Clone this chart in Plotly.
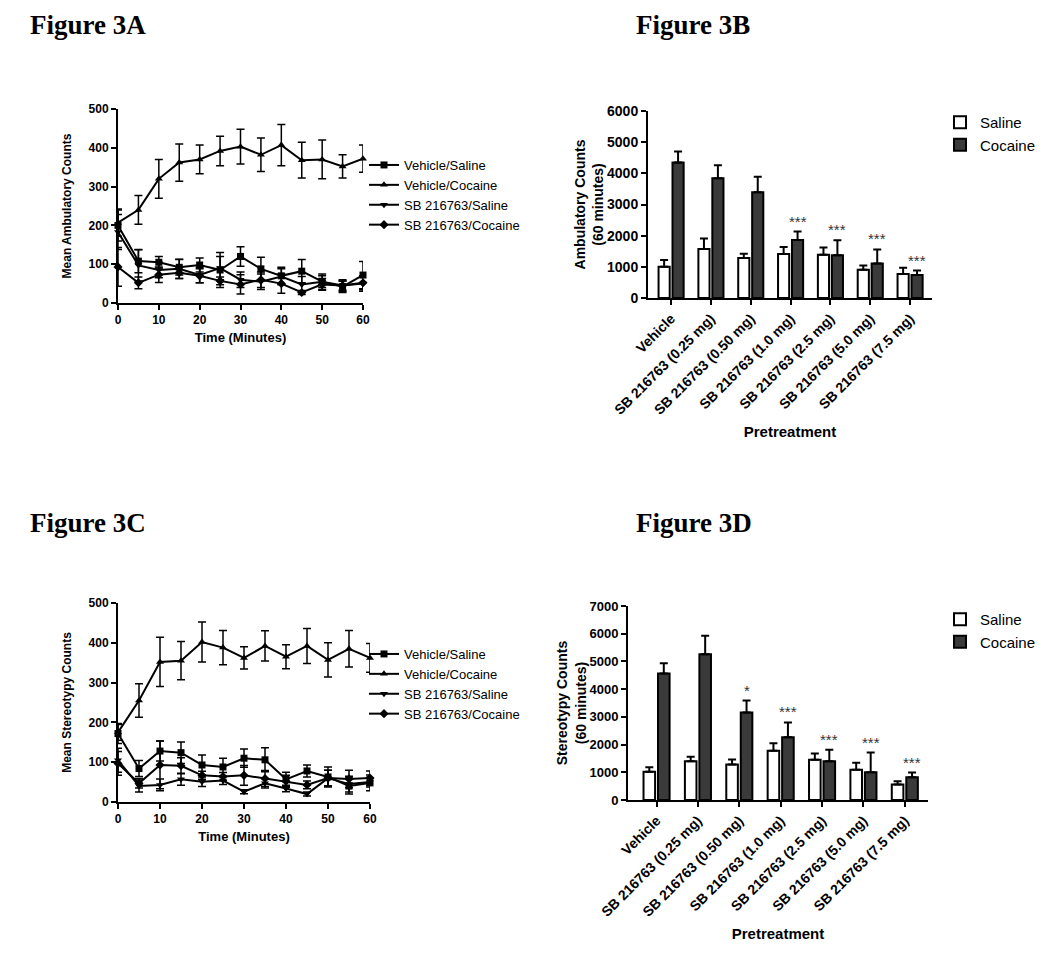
import plotly.graph_objects as go

# ---------------- data ----------------
time_min = [0, 5, 10, 15, 20, 25, 30, 35, 40, 45, 50, 55, 60]
line_series = ["Vehicle/Saline", "Vehicle/Cocaine", "SB 216763/Saline", "SB 216763/Cocaine"]

# Figure 3A - Mean ambulatory counts
amb_vs = [200, 108, 105, 92, 98, 85, 120, 88, 70, 82, 55, 42, 72]
amb_vs_err = [40, 30, 15, 20, 18, 45, 25, 30, 22, 30, 20, 15, 35]
amb_vc = [207, 240, 320, 362, 370, 392, 403, 382, 407, 368, 370, 352, 372]
amb_vc_err = [35, 37, 50, 48, 37, 38, 45, 43, 53, 46, 50, 30, 35]
amb_ss = [183, 97, 85, 88, 72, 90, 60, 55, 68, 48, 55, 45, 50]
amb_ss_err = [45, 40, 20, 25, 20, 30, 20, 20, 20, 20, 15, 15, 20]
amb_sc = [93, 52, 73, 78, 70, 57, 48, 60, 50, 27, 48, 45, 52]
amb_sc_err = [50, 15, 20, 15, 18, 10, 25, 20, 25, 5, 15, 12, 18]

# Figure 3C - Mean stereotypy counts
ste_vs = [172, 84, 128, 124, 93, 88, 110, 106, 57, 78, 63, 40, 48]
ste_vs_err = [25, 20, 25, 27, 25, 22, 23, 30, 18, 15, 25, 20, 20]
ste_vc = [175, 255, 352, 355, 402, 388, 362, 392, 365, 392, 357, 385, 362]
ste_vc_err = [20, 42, 62, 48, 50, 43, 28, 38, 30, 44, 43, 46, 36]
ste_ss = [105, 40, 43, 57, 51, 54, 26, 47, 34, 20, 60, 45, 50]
ste_ss_err = [30, 15, 15, 15, 12, 10, 5, 12, 8, 5, 20, 20, 12]
ste_sc = [97, 47, 93, 91, 67, 64, 67, 59, 52, 43, 60, 58, 60]
ste_sc_err = [30, 12, 60, 20, 10, 10, 25, 20, 15, 10, 20, 22, 18]

# Bar charts
pretreatments = ["Vehicle", "SB 216763 (0.25 mg)", "SB 216763 (0.50 mg)", "SB 216763 (1.0 mg)",
                 "SB 216763 (2.5 mg)", "SB 216763 (5.0 mg)", "SB 216763 (7.5 mg)"]
# Figure 3B - Ambulatory counts (60 minutes)
amb60_saline = [1000, 1570, 1280, 1410, 1390, 910, 770]
amb60_saline_err = [220, 340, 140, 230, 230, 130, 200]
amb60_cocaine = [4350, 3840, 3390, 1860, 1370, 1110, 740]
amb60_cocaine_err = [350, 420, 500, 270, 480, 450, 140]
amb60_sig = ["", "", "", "***", "***", "***", "***"]
# Figure 3D - Stereotypy counts (60 minutes)
ste60_saline = [1020, 1400, 1280, 1780, 1450, 1090, 555]
ste60_saline_err = [160, 165, 180, 265, 225, 250, 125]
ste60_cocaine = [4560, 5260, 3160, 2260, 1400, 1000, 820]
ste60_cocaine_err = [370, 670, 430, 540, 410, 710, 170]
ste60_sig = ["", "", "*", "***", "***", "***", "***"]

# ---------------- styling ----------------
PAGE_W, PAGE_H = 1050, 954
OFF = 8  # default body margin of the page
W, H = PAGE_W - OFF, PAGE_H - OFF
SANS = "Arial, Liberation Sans, sans-serif"
SERIF = "Times New Roman, Liberation Serif, serif"
symbols = ["square", "triangle-up", "triangle-down", "diamond"]


def fx(p):
    return (p - OFF) / W


def fy(p):
    return (H - (p - OFF)) / H


def px_x(a, b):
    return [fx(a), fx(b)]


def px_y(bottom, top):
    return [fy(bottom), fy(top)]


fig = go.Figure()


def add_lines(xa, ya, legend, data):
    for name, sym, (vals, errs) in zip(line_series, symbols, data):
        fig.add_trace(go.Scatter(
            x=time_min, y=vals, name=name, mode="lines+markers",
            line=dict(color="black", width=2),
            marker=dict(symbol=sym, size=7, color="black"),
            error_y=dict(type="data", array=errs, color="black", thickness=1.5, width=4),
            xaxis=xa, yaxis=ya, legend=legend, cliponaxis=False,
        ))


add_lines("x", "y", "legend", [(amb_vs, amb_vs_err), (amb_vc, amb_vc_err),
                               (amb_ss, amb_ss_err), (amb_sc, amb_sc_err)])
add_lines("x3", "y3", "legend3", [(ste_vs, ste_vs_err), (ste_vc, ste_vc_err),
                                  (ste_ss, ste_ss_err), (ste_sc, ste_sc_err)])


def add_bars(xa, ya, legend, sal, sal_err, coc, coc_err):
    fig.add_trace(go.Bar(
        x=pretreatments, y=sal, name="Saline",
        marker=dict(color="white", line=dict(color="black", width=2)),
        error_y=dict(type="data", array=sal_err, arrayminus=[0] * len(sal),
                     symmetric=False, color="black", thickness=2, width=4),
        xaxis=xa, yaxis=ya, legend=legend,
    ))
    fig.add_trace(go.Bar(
        x=pretreatments, y=coc, name="Cocaine",
        marker=dict(color="#3a3a3a", line=dict(color="black", width=2)),
        error_y=dict(type="data", array=coc_err, arrayminus=[0] * len(coc),
                     symmetric=False, color="black", thickness=2, width=4),
        xaxis=xa, yaxis=ya, legend=legend,
    ))


add_bars("x2", "y2", "legend2", amb60_saline, amb60_saline_err, amb60_cocaine, amb60_cocaine_err)
add_bars("x4", "y4", "legend4", ste60_saline, ste60_saline_err, ste60_cocaine, ste60_cocaine_err)


def axis(size=12, **kw):
    d = dict(showline=True, linecolor="black", linewidth=2, ticks="outside",
             ticklen=5, tickwidth=2, tickcolor="black", showgrid=False,
             zeroline=False, automargin=False,
             tickfont=dict(family=SANS, size=size, color="black", weight="bold"))
    d.update(kw)
    return d


annotations = []
for txt, x, y in [("Figure 3A", 28, 8), ("Figure 3B", 634, 8),
                  ("Figure 3C", 28, 506), ("Figure 3D", 634, 506)]:
    annotations.append(dict(text="<b>%s</b>" % txt, xref="paper", yref="paper",
                            x=fx(x), y=fy(y), xanchor="left", yanchor="top",
                            showarrow=False, font=dict(family=SERIF, size=27, color="black")))

offset = 0.175
for xa, ya, coc, err, sig in [("x2", "y2", amb60_cocaine, amb60_cocaine_err, amb60_sig),
                              ("x4", "y4", ste60_cocaine, ste60_cocaine_err, ste60_sig)]:
    for i, s in enumerate(sig):
        if s:
            annotations.append(dict(text=s, xref=xa, yref=ya, x=i + offset, y=coc[i] + err[i],
                                    xanchor="center", yanchor="bottom", yshift=0,
                                    showarrow=False,
                                    font=dict(family=SANS, size=15, color="#333333")))

fig.update_layout(
    template="none",
    width=W, height=H, margin=dict(l=0, r=0, t=0, b=0, autoexpand=False),
    paper_bgcolor="white", plot_bgcolor="white",
    font=dict(family=SANS, color="black"),
    barmode="group", bargap=0.3, bargroupgap=0.2,
    xaxis=axis(12, domain=px_x(118, 363), range=[0, 60], dtick=10, anchor="y",
               title=dict(text="<b>Time (Minutes)</b>", font=dict(family=SANS, size=13), standoff=6)),
    yaxis=axis(12, domain=px_y(303, 109), range=[0, 500], dtick=100, anchor="x",
               title=dict(text="<b>Mean Ambulatory Counts</b>", font=dict(family=SANS, size=12), standoff=14)),
    xaxis3=axis(12, domain=px_x(118, 370), range=[0, 60], dtick=10, anchor="y3",
                title=dict(text="<b>Time (Minutes)</b>", font=dict(family=SANS, size=13), standoff=6)),
    yaxis3=axis(12, domain=px_y(802, 603), range=[0, 500], dtick=100, anchor="x3",
                title=dict(text="<b>Mean Stereotypy Counts</b>", font=dict(family=SANS, size=12), standoff=14)),
    xaxis2=axis(14, domain=px_x(648, 932), range=[-0.58, 6.55], anchor="y2",
                type="category", tickangle=-45,
                title=dict(text="<b>Pretreatment</b>", font=dict(family=SANS, size=15), standoff=10)),
    yaxis2=axis(14, domain=px_y(298, 111), range=[0, 6000], dtick=1000, anchor="x2",
                title=dict(text="<b>Ambulatory Counts<br>(60 minutes)</b>", font=dict(family=SANS, size=14), standoff=0)),
    xaxis4=axis(14, domain=px_x(628, 928), range=[-0.69, 6.56], anchor="y4",
                type="category", tickangle=-45,
                title=dict(text="<b>Pretreatment</b>", font=dict(family=SANS, size=15), standoff=10)),
    yaxis4=axis(13, domain=px_y(800, 606), range=[0, 7000], dtick=1000, anchor="x4",
                title=dict(text="<b>Stereotypy Counts<br>(60 minutes)</b>", font=dict(family=SANS, size=14), standoff=0)),
    legend=dict(x=fx(364), y=fy(150), xanchor="left", yanchor="top",
                font=dict(family=SANS, size=13), bgcolor="rgba(0,0,0,0)", itemwidth=30),
    legend3=dict(x=fx(364), y=fy(639), xanchor="left", yanchor="top",
                 font=dict(family=SANS, size=13), bgcolor="rgba(0,0,0,0)", itemwidth=30),
    legend2=dict(x=fx(940), y=fy(106), xanchor="left", yanchor="top",
                 font=dict(family=SANS, size=15), bgcolor="rgba(0,0,0,0)", itemwidth=30),
    legend4=dict(x=fx(940), y=fy(603), xanchor="left", yanchor="top",
                 font=dict(family=SANS, size=15), bgcolor="rgba(0,0,0,0)", itemwidth=30),
    annotations=annotations,
    showlegend=True,
)

fig.write_html("out.html")
